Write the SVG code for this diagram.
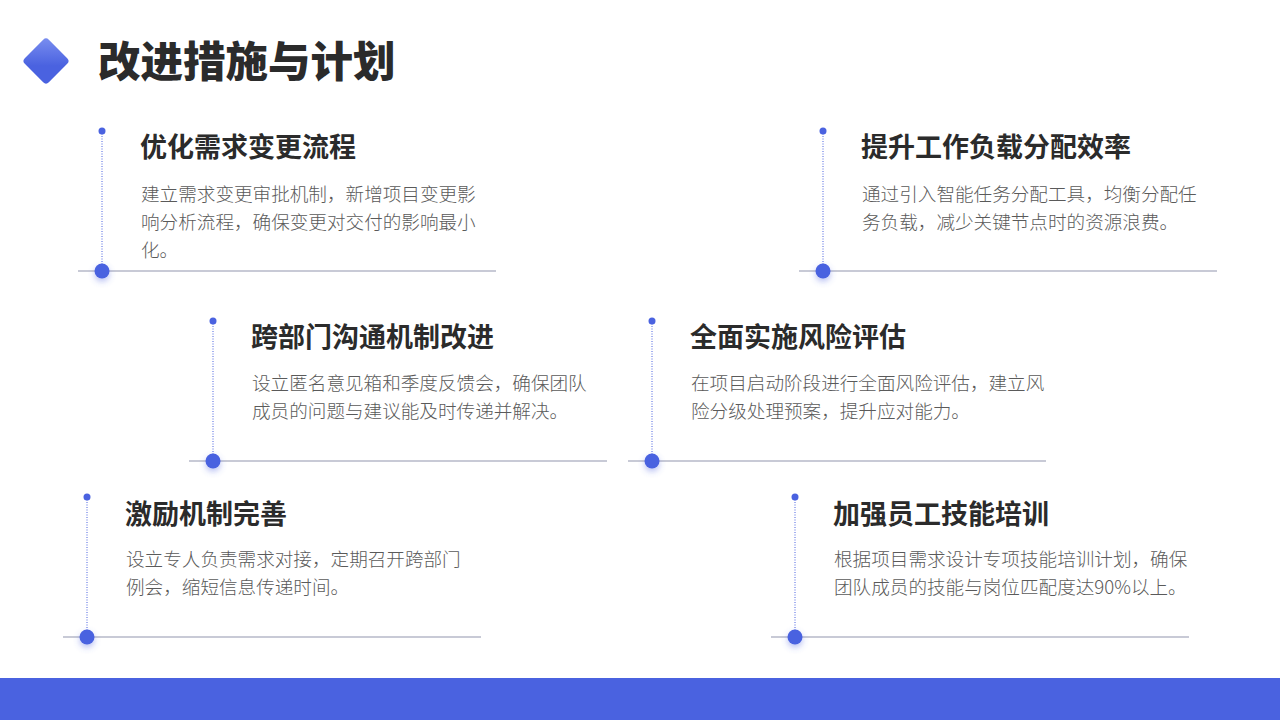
<svg xmlns="http://www.w3.org/2000/svg" width="1280" height="720" viewBox="0 0 1280 720">
<style>
.t{font-family:"Noto Sans CJK SC","Noto Sans",sans-serif;font-weight:700;font-size:27px;fill:#2b2b2b}
.b{font-family:"Noto Sans CJK SC","Noto Sans",sans-serif;font-weight:300;font-size:18.6px;fill:#5a5a5a}
.v{stroke:#4a62e0;stroke-width:1;stroke-dasharray:1 1.5}
.h{stroke:#c8cad6;stroke-width:2}
.d{fill:#4a62e0}
</style>
<defs>
<linearGradient id="g" x1="0" y1="0" x2="1" y2="1"><stop offset="0" stop-color="#7b8ff0"/><stop offset="0.6" stop-color="#4a62e0"/></linearGradient>
<filter id="s" x="-1" y="-1" width="3" height="3"><feDropShadow dx="0" dy="3" stdDeviation="3" flood-color="#4a62e0" flood-opacity="0.4"/></filter>
</defs>
<rect width="1280" height="720" fill="#fff"/>
<rect x="0" y="678" width="1280" height="42" fill="#4a62e0"/>
<rect x="29" y="44" width="34" height="34" rx="4" fill="url(#g)" transform="rotate(45 46 61)"/>
<text x="98" y="77" font-family="'Noto Sans CJK SC',sans-serif" font-weight="900" font-size="42.5" fill="#2b2b2b">改进措施与计划</text>
<g id="connectors">
<line class="h" x1="78" y1="271" x2="496" y2="271"/><line class="v" x1="102" y1="131" x2="102" y2="271"/>
<line class="h" x1="799" y1="271" x2="1217" y2="271"/><line class="v" x1="823" y1="131" x2="823" y2="271"/>
<line class="h" x1="189" y1="461" x2="607" y2="461"/><line class="v" x1="213" y1="321" x2="213" y2="461"/>
<line class="h" x1="628" y1="461" x2="1046" y2="461"/><line class="v" x1="652" y1="321" x2="652" y2="461"/>
<line class="h" x1="63" y1="637" x2="481" y2="637"/><line class="v" x1="87" y1="497" x2="87" y2="637"/>
<line class="h" x1="771" y1="637" x2="1189" y2="637"/><line class="v" x1="795" y1="497" x2="795" y2="637"/>
</g>
<g id="n1"><circle class="d" cx="102" cy="131" r="3.5"/><circle class="d" cx="102" cy="271" r="7.5" filter="url(#s)"/>
<text class="t" x="140" y="157">优化需求变更流程</text>
<text class="b" x="141" y="201">建立需求变更审批机制，新增项目变更影</text><text class="b" x="141" y="229">响分析流程，确保变更对交付的影响最小</text><text class="b" x="141" y="257">化。</text></g>
<g id="n2"><circle class="d" cx="823" cy="131" r="3.5"/><circle class="d" cx="823" cy="271" r="7.5" filter="url(#s)"/>
<text class="t" x="861" y="157">提升工作负载分配效率</text>
<text class="b" x="862" y="201">通过引入智能任务分配工具，均衡分配任</text><text class="b" x="862" y="229">务负载，减少关键节点时的资源浪费。</text></g>
<g id="n3"><circle class="d" cx="213" cy="321" r="3.5"/><circle class="d" cx="213" cy="461" r="7.5" filter="url(#s)"/>
<text class="t" x="251" y="347">跨部门沟通机制改进</text>
<text class="b" x="252" y="390">设立匿名意见箱和季度反馈会，确保团队</text><text class="b" x="252" y="418">成员的问题与建议能及时传递并解决。</text></g>
<g id="n4"><circle class="d" cx="652" cy="321" r="3.5"/><circle class="d" cx="652" cy="461" r="7.5" filter="url(#s)"/>
<text class="t" x="690" y="347">全面实施风险评估</text>
<text class="b" x="691" y="390">在项目启动阶段进行全面风险评估，建立风</text><text class="b" x="691" y="418">险分级处理预案，提升应对能力。</text></g>
<g id="n5"><circle class="d" cx="87" cy="497" r="3.5"/><circle class="d" cx="87" cy="637" r="7.5" filter="url(#s)"/>
<text class="t" x="125" y="524">激励机制完善</text>
<text class="b" x="126" y="566">设立专人负责需求对接，定期召开跨部门</text><text class="b" x="126" y="594">例会，缩短信息传递时间。</text></g>
<g id="n6"><circle class="d" cx="795" cy="497" r="3.5"/><circle class="d" cx="795" cy="637" r="7.5" filter="url(#s)"/>
<text class="t" x="833" y="524">加强员工技能培训</text>
<text class="b" x="834" y="566">根据项目需求设计专项技能培训计划，确保</text><text class="b" x="834" y="594">团队成员的技能与岗位匹配度达90%以上。</text></g>
</svg>
